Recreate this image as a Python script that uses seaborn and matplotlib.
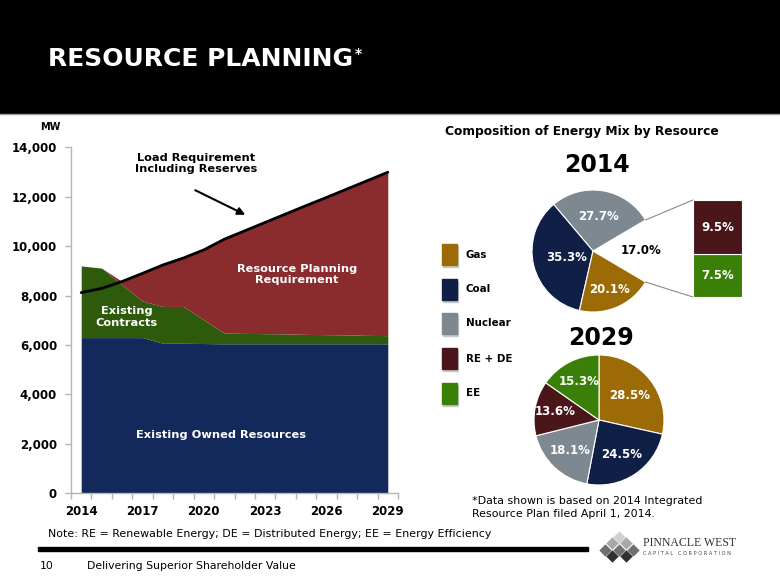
import numpy as np
import pandas as pd
import matplotlib
matplotlib.use("Agg")
import matplotlib.pyplot as plt
import seaborn as sns
from matplotlib.patches import Rectangle, ConnectionPatch

# ---------------- data ----------------
years = list(range(2014, 2030))
owned_mw = [6300, 6300, 6300, 6300, 6070, 6070, 6060, 6050, 6050, 6050, 6050, 6050, 6050, 6050, 6050, 6050]
contracts_mw = [2900, 2810, 2130, 1480, 1490, 1490, 960, 430, 420, 410, 400, 380, 370, 360, 340, 330]
load_mw = [8120, 8290, 8570, 8900, 9240, 9520, 9850, 10280, 10620, 10960, 11300, 11640, 11970, 12310, 12650, 12990]

y_ticks = [0, 2000, 4000, 6000, 8000, 10000, 12000, 14000]
x_label_years = [2014, 2017, 2020, 2023, 2026, 2029]

mix_2014_labels = ["Other", "Nuclear", "Coal", "Gas"]
mix_2014_values = [17.0, 27.7, 35.3, 20.1]
other_2014_labels = ["EE", "RE + DE"]
other_2014_values = [7.5, 9.5]

mix_2029_labels = ["Gas", "Coal", "Nuclear", "RE + DE", "EE"]
mix_2029_values = [28.5, 24.5, 18.1, 13.6, 15.3]

legend_labels = ["Gas", "Coal", "Nuclear", "RE + DE", "EE"]

# ---------------- style ----------------
sns.set_theme(style="white")
plt.rcParams["font.family"] = ["DejaVu Sans"]
plt.rcParams["text.color"] = "black"
plt.rcParams["xtick.labelcolor"] = "black"
plt.rcParams["ytick.labelcolor"] = "black"

NAVY = "#13295b"
GREEN = "#2d5a0b"
RED = "#8a2b2e"
res_colors = {"Gas": "#9c6b05", "Coal": "#0f1f46", "Nuclear": "#7e8890",
              "RE + DE": "#4a1619", "EE": "#3a8008", "Other": "white"}

W, H = 780, 585
fig = plt.figure(figsize=(7.8, 5.85), dpi=100)
fig.patch.set_facecolor("white")


def px_rect(x0, y0, x1, y1):
    """pixel box (top-left origin) -> figure fraction rect"""
    return [x0 / W, (H - y1) / H, (x1 - x0) / W, (y1 - y0) / H]


# background / annotation layer
bg = fig.add_axes([0, 0, 1, 1], zorder=0)
bg.set_xlim(0, W)
bg.set_ylim(H, 0)
bg.axis("off")

# header
bg.add_patch(Rectangle((0, 0), W, 113, color="black", zorder=1))
bg.plot([0, W], [113.5, 113.5], color="#9a9a9a", lw=1, zorder=1)
title = bg.text(48, 59, "RESOURCE PLANNING", color="white", fontsize=18,
                fontweight="bold", va="center", ha="left", zorder=2)
bg.annotate("*", xy=(1, 1.0), xycoords=title, xytext=(1.5, 0),
            textcoords="offset points", color="white", fontsize=10,
            fontweight="bold", va="top", ha="left", zorder=2)

# ---------------- area chart ----------------
ax = fig.add_axes(px_rect(71, 147.3, 398, 493.3), zorder=2)
ax.patch.set_alpha(0)
rpr_mw = np.maximum(0, np.array(load_mw) - np.array(owned_mw) - np.array(contracts_mw))
ax.stackplot(years, owned_mw, contracts_mw, rpr_mw,
             colors=[NAVY, GREEN, RED], linewidth=0, zorder=2)
sns.lineplot(x=years, y=load_mw, color="black", linewidth=2.0, ax=ax, zorder=3)

ax.set_xlim(2013.5, 2029.5)
ax.set_ylim(0, 14000)
ax.set_yticks(y_ticks)
ax.set_yticklabels([f"{v:,}" for v in y_ticks], fontsize=8.5, fontweight="bold", color="black")
ax.set_xticks(x_label_years)
ax.set_xticklabels([str(v) for v in x_label_years], fontsize=8.5, fontweight="bold", color="black")
ax.set_xticks(np.arange(2013.5, 2030, 1.0), minor=True)
ax.tick_params(axis="x", which="major", length=0, pad=8.5)
ax.tick_params(axis="x", which="minor", length=4, color="#b5b5b5", width=1, direction="out", bottom=True)
ax.tick_params(axis="y", which="major", length=4, color="#b5b5b5", width=1, direction="out", pad=6, left=True)
ax.set_xlabel("")
ax.set_ylabel("")
sns.despine(ax=ax)
for s in ["left", "bottom"]:
    ax.spines[s].set_color("#b5b5b5")
    ax.spines[s].set_linewidth(1)
ax.grid(False)

ax.text(2019.6, 13330, "Load Requirement\nIncluding Reserves", ha="center", va="center",
        fontsize=8.2, fontweight="bold", color="black", linespacing=1.15, zorder=4)
ax.annotate("", xy=(2022.15, 11220), xytext=(2019.46, 12312),
            arrowprops=dict(arrowstyle="-|>", color="black", lw=1.5, mutation_scale=11),
            zorder=4)
ax.text(2024.56, 8850, "Resource Planning\nRequirement", ha="center", va="center",
        fontsize=8.2, fontweight="bold", color="white", linespacing=1.15, zorder=4)
ax.text(2016.22, 7130, "Existing\nContracts", ha="center", va="center",
        fontsize=8.2, fontweight="bold", color="white", linespacing=1.15, zorder=4)
ax.text(2020.83, 2360, "Existing Owned Resources", ha="center", va="center",
        fontsize=8.2, fontweight="bold", color="white", zorder=4)

bg.text(50, 127, "MW", ha="center", va="center", fontsize=7, fontweight="bold", color="black")

# ---------------- composition title ----------------
bg.text(582, 132, "Composition of Energy Mix by Resource", ha="center", va="center",
        fontsize=8.8, fontweight="bold", color="black")
bg.text(596.5, 165, "2014", ha="center", va="center", fontsize=17, fontweight="bold", color="black")
bg.text(601, 338, "2029", ha="center", va="center", fontsize=17, fontweight="bold", color="black")

# ---------------- pie 2014 ----------------
cx1, cy1, r1 = 593, 251, 61
axp1 = fig.add_axes(px_rect(cx1 - r1, cy1 - r1, cx1 + r1, cy1 + r1), zorder=2)
start1 = -mix_2014_values[0] / sum(mix_2014_values) * 360 / 2
wedges1, _ = axp1.pie(mix_2014_values, colors=[res_colors[k] for k in mix_2014_labels],
                      startangle=start1, counterclock=True, radius=1,
                      wedgeprops=dict(linewidth=0.8, edgecolor="white"))
axp1.set_xlim(-1, 1)
axp1.set_ylim(-1, 1)
axp1.set_aspect("equal")
axp1.axis("off")
dist1 = [0.79, 0.57, 0.45, 0.69]
cum = 0.0
tot = sum(mix_2014_values)
for lab, v, d in zip(mix_2014_labels, mix_2014_values, dist1):
    mid = np.deg2rad(start1 + (cum + v / 2) / tot * 360)
    cum += v
    axp1.text(d * np.cos(mid), d * np.sin(mid), f"{v:.1f}%", ha="center", va="center",
              fontsize=8.5, fontweight="bold", color="black" if lab == "Other" else "white")

# bar of pie
axb = fig.add_axes(px_rect(693, 200, 742, 297), zorder=2)
bottom = 0.0
for lab, v in zip(other_2014_labels, other_2014_values):
    axb.bar(0, v, bottom=bottom, width=1.0, color=res_colors[lab], edgecolor="white", linewidth=0.8)
    axb.text(0, bottom + v / 2, f"{v:.1f}%", ha="center", va="center",
             fontsize=8.5, fontweight="bold", color="white")
    bottom += v
axb.set_xlim(-0.5, 0.5)
axb.set_ylim(0, sum(other_2014_values))
axb.axis("off")

a_half = np.deg2rad(mix_2014_values[0] / tot * 360 / 2)
for sgn, yb in [(1, sum(other_2014_values)), (-1, 0)]:
    con = ConnectionPatch(xyA=(np.cos(a_half), sgn * np.sin(a_half)), coordsA=axp1.transData,
                          xyB=(-0.5, yb), coordsB=axb.transData,
                          color="#8a8a8a", lw=0.8, zorder=5)
    fig.add_artist(con)

# ---------------- pie 2029 ----------------
cx2, cy2, r2 = 599, 420, 65
axp2 = fig.add_axes(px_rect(cx2 - r2, cy2 - r2, cx2 + r2, cy2 + r2), zorder=2)
axp2.pie(mix_2029_values, colors=[res_colors[k] for k in mix_2029_labels],
         startangle=90, counterclock=False, radius=1,
         wedgeprops=dict(linewidth=0.8, edgecolor="white"))
axp2.set_xlim(-1, 1)
axp2.set_ylim(-1, 1)
axp2.set_aspect("equal")
axp2.axis("off")
dist2 = [0.6, 0.64, 0.65, 0.68, 0.67]
cum = 0.0
tot2 = sum(mix_2029_values)
for lab, v, d in zip(mix_2029_labels, mix_2029_values, dist2):
    mid = np.deg2rad(90 - (cum + v / 2) / tot2 * 360)
    cum += v
    axp2.text(d * np.cos(mid), d * np.sin(mid), f"{v:.1f}%", ha="center", va="center",
              fontsize=8.5, fontweight="bold", color="white")

# ---------------- legend ----------------
leg_y = [244, 279, 313, 348, 383]
for lab, y0 in zip(legend_labels, leg_y):
    bg.add_patch(Rectangle((443, y0 + 2), 15, 21, color="#c8c8c8", zorder=1))
    bg.add_patch(Rectangle((442, y0), 15, 21, color=res_colors[lab], zorder=2))
    bg.text(466, y0 + 10.5, lab, ha="left", va="center", fontsize=7.4,
            fontweight="bold", color="black")

# ---------------- footnotes ----------------
bg.text(472, 501.5, "*Data shown is based on 2014 Integrated", ha="left", va="center",
        fontsize=7.9, color="black")
bg.text(472, 514, "Resource Plan filed April 1, 2014.", ha="left", va="center",
        fontsize=7.9, color="black")
bg.text(48, 534, "Note: RE = Renewable Energy; DE = Distributed Energy; EE = Energy Efficiency",
        ha="left", va="center", fontsize=7.9, color="black")
bg.add_patch(Rectangle((38, 547), 550, 4, color="black", zorder=1))
bg.text(40, 566, "10", ha="left", va="center", fontsize=7.8, color="black")
bg.text(87, 566, "Delivering Superior Shareholder Value", ha="left", va="center",
        fontsize=7.8, color="black")

# logo
rows = [([619], "#d0d0d0"), ([612, 626], "#a8a8a8"), ([605, 619, 633], "#707070"), ([612, 626], "#303030")]
for i, (xs, c) in enumerate(rows):
    bg.scatter(xs, [537 + 6.3 * i] * len(xs), marker="D", s=40, color=c, linewidths=0, zorder=3)
bg.text(643, 543, "PINNACLE WEST", ha="left", va="center", fontsize=8.5, color="#333333",
        family=["Liberation Serif", "DejaVu Serif"])
bg.text(643, 553.5, "C A P I T A L   C O R P O R A T I O N", ha="left", va="center",
        fontsize=3.6, color="#444444")

fig.savefig("out.png", dpi=100, facecolor="white")
